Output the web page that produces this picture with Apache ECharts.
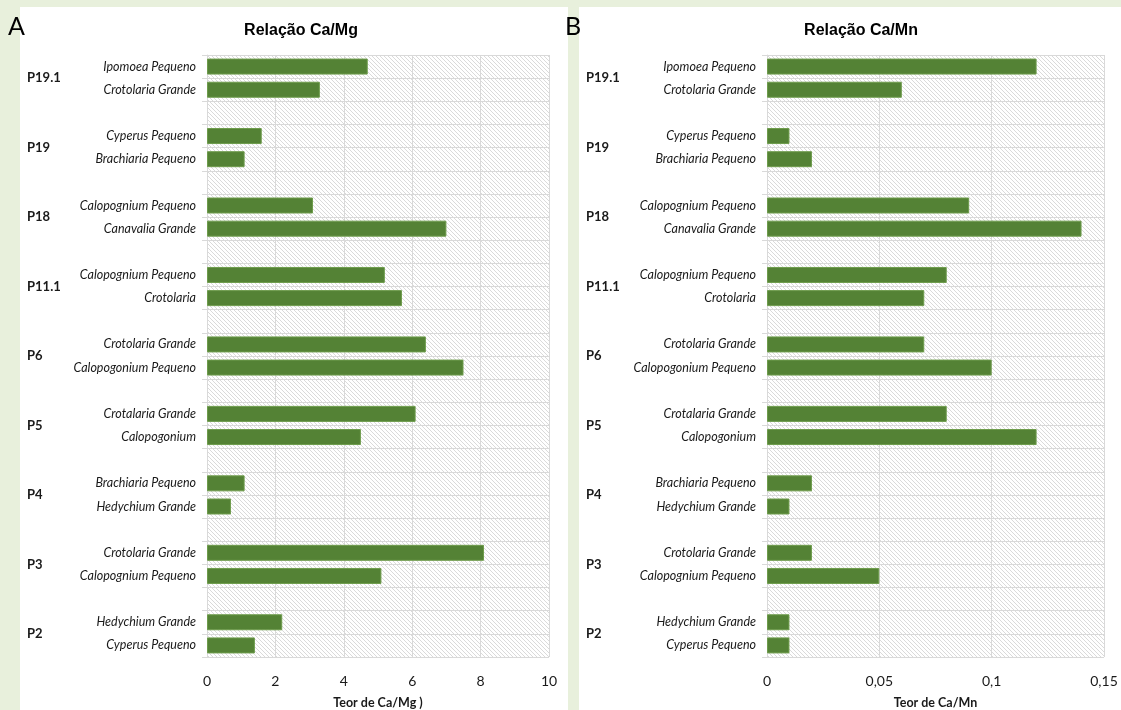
<!DOCTYPE html>
<html>
<head>
<meta charset="utf-8">
<script src="https://cdn.jsdelivr.net/npm/echarts@6/dist/echarts.min.js"></script>
<style>
html,body{margin:0;padding:0;background:#e8f0dc;}
#c{width:1121px;height:710px;}
</style>
</head>
<body>
<div id="c"></div>
<script>
// ---- data ----
const groups = ['P19.1', 'P19', 'P18', 'P11.1', 'P6', 'P5', 'P4', 'P3', 'P2'];
const speciesFirst  = ['Ipomoea Pequeno', 'Cyperus Pequeno', 'Calopognium Pequeno', 'Calopognium Pequeno', 'Crotolaria Grande', 'Crotalaria Grande', 'Brachiaria Pequeno', 'Crotolaria Grande', 'Hedychium Grande'];
const speciesSecond = ['Crotolaria Grande', 'Brachiaria Pequeno', 'Canavalia Grande', 'Crotolaria', 'Calopogonium Pequeno', 'Calopogonium', 'Hedychium Grande', 'Calopognium Pequeno', 'Cyperus Pequeno'];
const caMgFirst  = [4.7, 1.6, 3.1, 5.2, 6.4, 6.1, 1.1, 8.1, 2.2];
const caMgSecond = [3.3, 1.1, 7.0, 5.7, 7.5, 4.5, 0.7, 5.1, 1.4];
const caMnFirst  = [0.12, 0.01, 0.09, 0.08, 0.07, 0.08, 0.02, 0.02, 0.01];
const caMnSecond = [0.06, 0.02, 0.14, 0.07, 0.10, 0.12, 0.01, 0.05, 0.01];
const ticksCaMg = { min: 0, max: 10, interval: 2 };
const ticksCaMn = { min: 0, max: 0.15, interval: 0.05 };

// ---- build rows (two bars per group, blank row between groups) ----
const rowLabels = [];
const groupLabels = []; // boundary-based axis (rows + 1 entries)
function buildRows(first, second) {
  const out = [];
  groups.forEach((g, i) => {
    out.push(first[i]);
    out.push(second[i]);
    if (i < groups.length - 1) out.push(null);
  });
  return out;
}
groups.forEach((g, i) => {
  rowLabels.push(speciesFirst[i]);
  rowLabels.push(speciesSecond[i]);
  if (i < groups.length - 1) rowLabels.push('');
});
for (let k = 0; k <= rowLabels.length; k++) groupLabels.push('');
groups.forEach((g, i) => { groupLabels[3 * i + 1] = g; });

const dataA = buildRows(caMgFirst, caMgSecond);
const dataB = buildRows(caMnFirst, caMnSecond);

// ---- hatch pattern ----
const pc = document.createElement('canvas');
pc.width = 4; pc.height = 4;
const pctx = pc.getContext('2d');
pctx.fillStyle = '#ffffff';
pctx.fillRect(0, 0, 4, 4);
pctx.strokeStyle = '#d6d6d6';
pctx.lineWidth = 0.9;
pctx.beginPath();
pctx.moveTo(-1, -1); pctx.lineTo(5, 5);
pctx.moveTo(-1, 3); pctx.lineTo(1, 5);
pctx.moveTo(3, -1); pctx.lineTo(5, 1);
pctx.stroke();
const hatch = { image: pc, repeat: 'repeat' };

const GRID_LINE = '#d9d9d9';
const labelFont = 'Lato, "Open Sans", sans-serif';

function yAxesFor(gridIndex, groupMargin) {
  return [
    {
      type: 'category', gridIndex, data: rowLabels, inverse: true,
      axisLine: { show: true, lineStyle: { color: GRID_LINE } },
      axisTick: { show: true, length: 5, lineStyle: { color: GRID_LINE } },
      splitLine: { show: true, lineStyle: { color: GRID_LINE, width: 1 } },
      axisLabel: { interval: 0, margin: 11, fontStyle: 'italic', fontSize: 12.5, color: '#1a1a1a', fontFamily: labelFont }
    },
    {
      type: 'category', gridIndex, data: groupLabels, inverse: true, boundaryGap: false,
      position: 'left',
      axisLine: { show: false }, axisTick: { show: false }, splitLine: { show: false },
      axisLabel: { interval: 0, margin: groupMargin, align: 'left', fontWeight: 'bold', fontSize: 13, color: '#1a1a1a', fontFamily: labelFont }
    }
  ];
}

function xAxisFor(gridIndex, t, name, fmt) {
  return {
    type: 'value', gridIndex, min: t.min, max: t.max, interval: t.interval,
    axisLine: { show: false }, axisTick: { show: false },
    splitLine: { show: true, lineStyle: { color: GRID_LINE, width: 1 } },
    axisLabel: { fontSize: 14, margin: 17, color: '#1a1a1a', fontFamily: labelFont, formatter: fmt },
    name, nameLocation: 'middle', nameGap: 39,
    nameTextStyle: { fontWeight: 'bold', fontSize: 12.5, color: '#1a1a1a', fontFamily: labelFont }
  };
}

const barStyle = { color: '#548235', borderColor: '#6e9c4c', borderWidth: 1 };

const chart = echarts.init(document.getElementById('c'), null, { renderer: 'canvas' });
chart.setOption({
  backgroundColor: '#e8f0dc',
  animation: false,
  graphic: [
    { type: 'rect', left: 20, top: 7, shape: { width: 548, height: 703 }, style: { fill: '#ffffff' }, z: -10 },
    { type: 'rect', left: 579, top: 7, shape: { width: 542, height: 703 }, style: { fill: '#ffffff' }, z: -10 },
    { type: 'text', left: 8, top: 14, style: { text: 'A', fontSize: 25, fill: '#000', fontFamily: labelFont } },
    { type: 'text', left: 565, top: 14, style: { text: 'B', fontSize: 25, fill: '#000', fontFamily: labelFont } }
  ],
  title: [
    { text: 'Relação Ca/Mg', left: 296, top: 18, textAlign: 'center',
      textStyle: { fontSize: 16, fontWeight: 'bold', color: '#000', fontFamily: '"Liberation Sans Narrow", "Liberation Sans", sans-serif' } },
    { text: 'Relação Ca/Mn', left: 856, top: 18, textAlign: 'center',
      textStyle: { fontSize: 16, fontWeight: 'bold', color: '#000', fontFamily: '"Liberation Sans Narrow", "Liberation Sans", sans-serif' } }
  ],
  grid: [
    { left: 207, right: 572, top: 55, bottom: 53, outerBoundsMode: 'none', containLabel: false, show: true, backgroundColor: hatch, borderColor: GRID_LINE, borderWidth: 0 },
    { left: 767, right: 17, top: 55, bottom: 53, outerBoundsMode: 'none', containLabel: false, show: true, backgroundColor: hatch, borderColor: GRID_LINE, borderWidth: 0 }
  ],
  xAxis: [
    xAxisFor(0, ticksCaMg, 'Teor de Ca/Mg )', v => String(v)),
    xAxisFor(1, ticksCaMn, 'Teor de Ca/Mn', v => String(+v.toFixed(2)).replace('.', ','))
  ],
  yAxis: [].concat(yAxesFor(0, 180), yAxesFor(1, 181)),
  series: [
    { type: 'bar', xAxisIndex: 0, yAxisIndex: 0, data: dataA, barWidth: 16, itemStyle: barStyle, z: 3 },
    { type: 'bar', xAxisIndex: 1, yAxisIndex: 2, data: dataB, barWidth: 16, itemStyle: barStyle, z: 3 }
  ]
});
</script>
</body>
</html>
